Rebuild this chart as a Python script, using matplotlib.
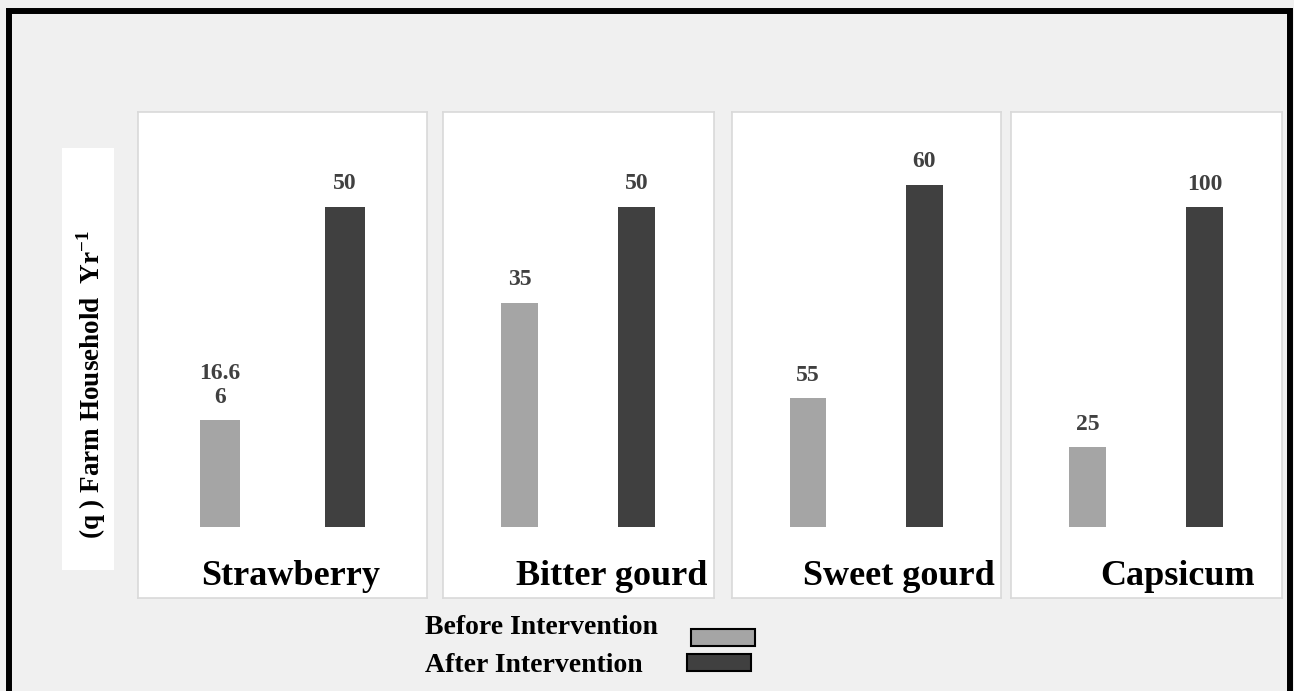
import matplotlib
matplotlib.use("Agg")
import matplotlib.pyplot as plt
from matplotlib.patches import Rectangle

# ---------------- data ----------------
crops = ["Strawberry", "Bitter gourd", "Sweet gourd", "Capsicum"]
series = ["Before Intervention", "After Intervention"]
# bar heights as drawn (each panel has its own scale)
before_heights = [16.66, 35, 22.6, 25]
after_heights = [50, 50, 60, 100]
# value labels as printed above the bars
before_labels = ["16.6\n6", "35", "55", "25"]
after_labels = ["50", "50", "60", "100"]
# upper y-limit of each panel (panel scales differ)
panel_ymax = [64.8, 64.8, 72.8, 129.7]
ylabel = "(q ) Farm Household  Yr$^{\\mathbf{-1}}$"

# ---------------- style ----------------
W, H = 1294, 691
c_before = "#a5a5a5"
c_after = "#404040"
bg = "#f0f0f0"
serif = ["Liberation Serif", "DejaVu Serif"]
plt.rcParams["mathtext.fontset"] = "custom"
plt.rcParams["mathtext.rm"] = "Liberation Serif"
plt.rcParams["mathtext.bf"] = "Liberation Serif:bold"

fig = plt.figure(figsize=(W / 100, H / 100), dpi=100, facecolor=bg)

def fx(x):
    return x / W

def fy(y):
    return 1 - y / H

# outer black frame (top edge at ~10 px, bottom outside the image)
fig.patches.append(Rectangle((fx(9), fy(760)), fx(1290 - 9), (760 - 10.5) / H,
                             transform=fig.transFigure, fill=False, edgecolor="black", lw=4.3))

# panels: (left, right) in pixels, top/bottom shared
panels_px = [(138, 427), (443, 714), (732, 1001), (1011, 1282)]
top_px, bot_px, base_px = 112, 598, 527
label_xfrac = [0.529, 0.624, 0.621, 0.613]
base_frac = (bot_px - base_px) / (bot_px - top_px)

for i, (l, r) in enumerate(panels_px):
    ax = fig.add_axes([fx(l), fy(bot_px), (r - l) / W, (bot_px - top_px) / H])
    ax.set_facecolor("white")
    for s in ax.spines.values():
        s.set_color("#d9d9d9")
        s.set_linewidth(1.2)
    ax.set_xticks([])
    ax.set_yticks([])
    ymax = panel_ymax[i]
    ymin = -ymax * base_frac / (1 - base_frac)
    ax.set_ylim(ymin, ymax)
    ax.set_xlim(-0.655, 1.66)
    bw = 0.32 if i == 0 else 0.32 * 289 / 271 * 37 / 40
    ax.bar([0], [before_heights[i]], width=bw, color=c_before, edgecolor="none")
    ax.bar([1], [after_heights[i]], width=bw, color=c_after, edgecolor="none")
    for x, h, t in [(0, before_heights[i], before_labels[i]), (1, after_heights[i], after_labels[i])]:
        ax.annotate(t, (x, h), xytext=(0, 9), textcoords="offset points",
                    ha="center", va="bottom", fontsize=17, fontweight="bold",
                    color="#404040", family=serif, linespacing=1.15)
    ax.text(label_xfrac[i], (bot_px - 585) / (bot_px - top_px), crops[i],
            transform=ax.transAxes, ha="center", va="baseline",
            fontsize=26, fontweight="bold", color="black", family=serif)

# y label with white box
fig.patches.append(Rectangle((fx(62), fy(570)), (114 - 62) / W, (570 - 148) / H,
                             transform=fig.transFigure, facecolor="white", edgecolor="none"))
fig.text(fx(91), fy(385), ylabel, rotation=90, ha="center", va="center",
         fontsize=19.5, fontweight="bold", family=serif, color="black")

# legend
fig.text(fx(425), fy(628), series[0], ha="left", va="center", fontsize=20,
         fontweight="bold", family=serif, color="black")
fig.text(fx(425), fy(665), series[1], ha="left", va="center", fontsize=20,
         fontweight="bold", family=serif, color="black")
fig.patches.append(Rectangle((fx(691), fy(646)), (755 - 691) / W, (646 - 629) / H,
                             transform=fig.transFigure, facecolor=c_before,
                             edgecolor="black", lw=1.5))
fig.patches.append(Rectangle((fx(687), fy(671)), (751 - 687) / W, (671 - 654) / H,
                             transform=fig.transFigure, facecolor=c_after,
                             edgecolor="black", lw=1.5))

fig.savefig("out.png", dpi=100, facecolor=bg)
